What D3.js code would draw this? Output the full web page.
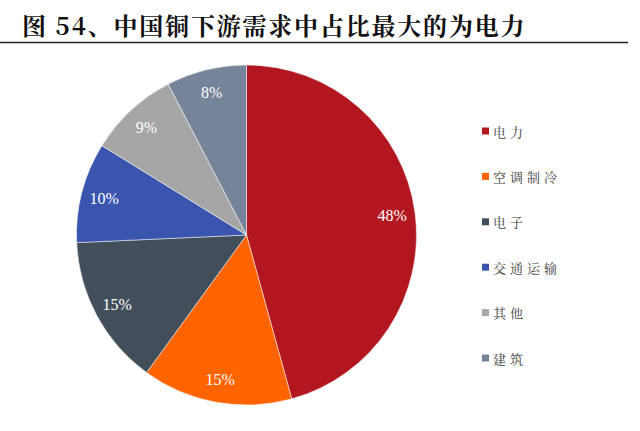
<!DOCTYPE html>
<html><head><meta charset="utf-8">
<script src="https://cdn.jsdelivr.net/npm/d3@7"></script>
<style>
html,body{margin:0;padding:0;background:#fff;}
svg{display:block;}
</style></head>
<body>
<svg id="chart" width="640" height="431"></svg>
<script>
const categories = ["电力", "空调制冷", "电子", "交通运输", "其他", "建筑"];
const values = [48, 15, 15, 10, 9, 8];
const labels = ["48%", "15%", "15%", "10%", "9%", "8%"];
const colors = ["#B2161F", "#FF6400", "#434E5B", "#3A55AD", "#A6A6A6", "#76849A"];
const titleText = "图 54、中国铜下游需求中占比最大的为电力";

const svg = d3.select("#chart");

// title
svg.append("text")
  .attr("x", 22).attr("y", 35)
  .attr("font-family", "'Noto Serif CJK SC','Noto Sans CJK SC',sans-serif")
  .attr("font-weight", "bold")
  .attr("font-size", 24)
  .attr("letter-spacing", 1.8)
  .attr("fill", "#111")
  .text(titleText);
svg.append("line")
  .attr("x1", 0).attr("x2", 628).attr("y1", 42.5).attr("y2", 42.5)
  .attr("stroke", "#222").attr("stroke-width", 1.5);

const cx = 246.5, cy = 235, R = 170;
const data = categories.map((c, i) => ({name: c, value: values[i], label: labels[i], color: colors[i]}));
const pie = d3.pie().sort(null).value(d => d.value);
const arc = d3.arc().innerRadius(0).outerRadius(R);
const labelArc = d3.arc().innerRadius(147).outerRadius(147);

const g = svg.append("g").attr("transform", `translate(${cx},${cy})`);
const arcs = pie(data);
g.selectAll("path").data(arcs).join("path")
  .attr("d", arc)
  .attr("fill", d => d.data.color)
  .attr("stroke", "#fff").attr("stroke-width", 0.5);

g.selectAll("text.lbl").data(arcs).join("text")
  .attr("class", "lbl")
  .attr("transform", d => `translate(${labelArc.centroid(d)})`)
  .attr("text-anchor", "middle")
  .attr("dominant-baseline", "central")
  .attr("font-family", "'Liberation Serif','Times New Roman',serif")
  .attr("font-size", 16)
  .attr("fill", "#fff")
  .text(d => d.data.label);

// legend
const ly = d3.scalePoint().domain(categories).range([131, 358]);
const lg = svg.append("g");
const items = lg.selectAll("g").data(data).join("g")
  .attr("transform", d => `translate(482,${ly(d.name)})`);
items.append("rect").attr("x", 0).attr("y", -3.5).attr("width", 7).attr("height", 7)
  .attr("fill", d => d.color);
items.append("text")
  .attr("x", 11).attr("y", 0)
  .attr("dominant-baseline", "central")
  .attr("font-family", "'Noto Serif CJK SC','Noto Sans CJK SC',sans-serif")
  .attr("font-size", 13)
  .attr("letter-spacing", 4)
  .attr("fill", "#404040")
  .text(d => d.name);
</script>
</body></html>
